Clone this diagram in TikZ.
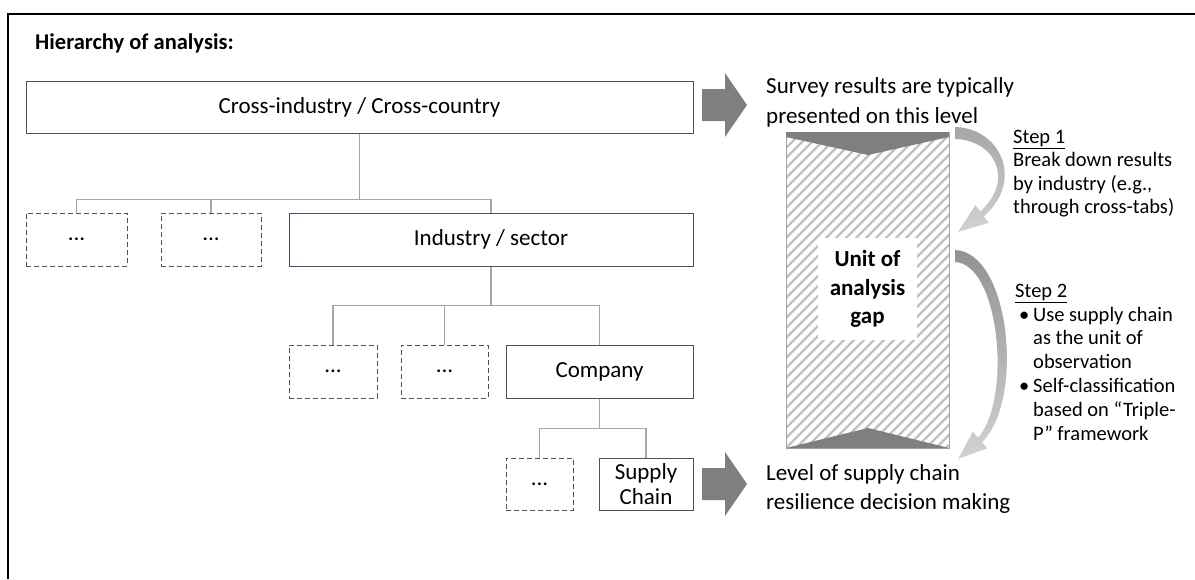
\documentclass[tikz,border=0pt]{standalone}
\usepackage{fontspec}
\setmainfont{Carlito}
\definecolor{boxcol}{HTML}{44546A}
\definecolor{conncol}{HTML}{A6A6A6}
\definecolor{arrowcol}{HTML}{7F7F7F}
\definecolor{hatchcol}{HTML}{C0C0C0}
\newcommand\mybul{\hspace*{4pt}\makebox[14pt][l]{•}}
\newcommand\myind{\hspace*{18pt}}
\begin{document}
\begin{tikzpicture}[x=1pt,y=-1pt,
  box/.style={draw=boxcol, line width=1pt, fill=white, inner sep=0pt,
    font=\fontsize{23}{25}\selectfont, align=center},
  dbox/.style={box, dash pattern=on 5pt off 3pt},
  conn/.style={draw=conncol, line width=1.8pt},
  blockarrow/.style={fill=arrowcol, draw=none},
  txt/.style={anchor=base west, inner sep=0pt, align=left},
  curvearrow/.style={draw=none}
]
\useasboundingbox (0,0) rectangle (1195,579);
% outer frame (top and left only)
\draw[line width=2pt] (8,579) -- (8,14) -- (1195,14);

% title
\node[txt, font=\bfseries\fontsize{22.5}{26}\selectfont] (title) at (35,49) {Hierarchy of analysis:};

% level 1
\node[box, minimum width=667pt, minimum height=52pt] (b1) at (359.5,107) {Cross-industry / Cross-country};
% level 2
\node[dbox, minimum width=101pt, minimum height=53pt] (d1) at (76.5,239.5) {...};
\node[dbox, minimum width=100pt, minimum height=53pt] (d2) at (211,239.5) {...};
\node[box, minimum width=404pt, minimum height=53pt] (ind) at (491,239.5) {Industry / sector};
% level 3
\node[dbox, minimum width=88pt, minimum height=53pt] (d3) at (333,371.5) {...};
\node[dbox, minimum width=87pt, minimum height=53pt] (d4) at (444.5,371.5) {...};
\node[box, minimum width=187pt, minimum height=53pt] (comp) at (599.5,371.5) {Company};
% level 4
\node[dbox, minimum width=67pt, minimum height=52pt] (d5) at (539.5,484) {...};
\node[box, minimum width=94pt, minimum height=52pt] (sc) at (646,484) {Supply\\Chain};

% connectors
\draw[conn] (b1.south) -- ++(0,66) coordinate (j1) -| (d1.north);
\draw[conn] (j1) -| (d2.north);
\draw[conn] (j1) -| (ind.north);
\draw[conn] (ind.south) -- ++(0,39) coordinate (j2) -| (d3.north);
\draw[conn] (j2) -| (d4.north);
\draw[conn] (j2) -| (comp.north);
\draw[conn] (comp.south) -- ++(0,30) coordinate (j3) -| (d5.north);
\draw[conn] (j3) -| (sc.north);

% block arrows
\fill[blockarrow] (702,89) -- (725,89) -- (725,73) -- (747,105) -- (725,137) -- (725,121) -- (702,121) -- cycle;
\fill[blockarrow] (702,468) -- (725,468) -- (725,452) -- (747,484) -- (725,516) -- (725,500) -- (702,500) -- cycle;

% texts beside arrows (anchor = baseline of last line)
\node[txt, font=\fontsize{23}{30}\selectfont] (survey) at (766,123) {Survey results are typically\\presented on this level};
\node[txt, font=\fontsize{23}{29}\selectfont] (level) at (766,509) {Level of supply chain\\resilience decision making};

% hatched gap column
\begin{scope}
  \clip (786,132) rectangle (949,448);
  \foreach \i in {-34,...,18} {
    \draw[hatchcol, line width=2.4pt] (786+\i*10,448) -- ++(330,-330);
  }
\end{scope}
\draw[conncol, line width=0.8pt] (786,132) rectangle (949,448);
\fill[arrowcol] (786,132) -- (949,132) -- (949,137) -- (868,155) -- (786,137) -- cycle;
\fill[arrowcol] (786,448) -- (868,428) -- (949,448) -- cycle;
\node[fill=white, minimum width=99pt, minimum height=102pt, inner sep=0pt,
  font=\bfseries\fontsize{23}{28.5}\selectfont, align=center] (unit) at (867.5,289) {Unit of\\analysis\\gap};

% curved arrows
\shade[top color=gray!70, bottom color=gray!35, curvearrow]
  (955,127) .. controls (1000,128) and (1025,180) .. (983.8,216.4)
  -- (988.6,222.8) -- (958,232) -- (975.4,205.2) -- (980.2,211.6)
  .. controls (1015,180) and (995,140) .. (955,139) -- cycle;
\shade[top color=gray!85, bottom color=gray!35, curvearrow]
  (955,250) .. controls (1010,252) and (1025,400) .. (982,442.3)
  -- (987.2,448.3) -- (958,459) -- (972.8,431.7) -- (978,437.7)
  .. controls (1012,400) and (1000,264) .. (955,262) -- cycle;

% step texts (anchor = baseline of last line)
\node[txt, font=\fontsize{20.5}{23.5}\selectfont] (s1) at (1013,213.5)
  {\underline{Step 1}\\Break down results\\by industry (e.g.,\\through cross-tabs)};
\node[txt, font=\fontsize{20.5}{23.8}\selectfont] (s2) at (1015,440)
  {\underline{Step 2}\\\mybul Use supply chain\\\myind as the unit of\\\myind observation\\\mybul Self-classification\\\myind based on “Triple-\\\myind P” framework};
\end{tikzpicture}
\end{document}
